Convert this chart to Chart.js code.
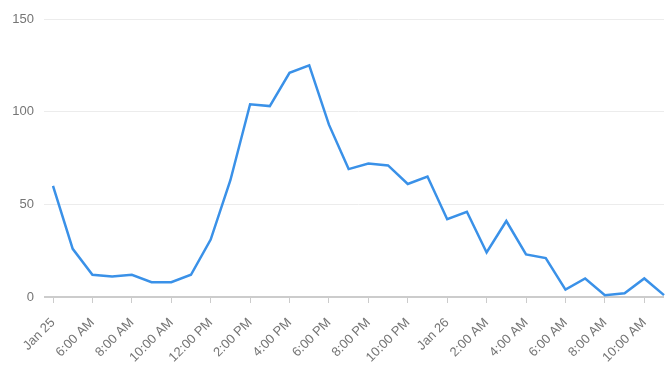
<!DOCTYPE html>
<html>
<head>
<meta charset="utf-8">
<script src="https://cdn.jsdelivr.net/npm/chart.js@4"></script>
<style>
  html, body { margin: 0; padding: 0; background: #fff; }
  #wrap { width: 671px; height: 377px; }
</style>
</head>
<body>
<div id="wrap"><canvas id="chart" width="671" height="377"></canvas></div>
<script>
// Hourly labels, Jan 25 4:00 AM -> Jan 26 11:00 AM (only every 2nd shown)
const HOURS = [
    'Jan 25', '5:00 AM', '6:00 AM', '7:00 AM', '8:00 AM', '9:00 AM',
    '10:00 AM', '11:00 AM', '12:00 PM', '1:00 PM', '2:00 PM', '3:00 PM',
    '4:00 PM', '5:00 PM', '6:00 PM', '7:00 PM', '8:00 PM', '9:00 PM',
    '10:00 PM', '11:00 PM', 'Jan 26', '1:00 AM', '2:00 AM', '3:00 AM',
    '4:00 AM', '5:00 AM', '6:00 AM', '7:00 AM', '8:00 AM', '9:00 AM',
    '10:00 AM', '11:00 AM',
];
const COUNTS = [
    60, 26, 12, 11, 12, 8, 8, 12, 31, 63, 104, 103,
    121, 125, 93, 69, 72, 71, 61, 65, 42, 46, 24, 41,
    23, 21, 4, 10, 1, 2, 10, 1,
];
const Y_TICKS = [0, 50, 100, 150];

const LINE = '#3a91e8';
const GRID = '#ececec';
const AXIS = '#cccccc';
const TEXT = '#757575';
const FONT = { family: 'Liberation Sans, Arial, sans-serif', size: 13 };

new Chart(document.getElementById('chart'), {
    type: 'line',
    data: {
        labels: HOURS,
        datasets: [{
            data: COUNTS,
            borderColor: LINE,
            borderWidth: 2.5,
            pointRadius: 0,
            tension: 0,
            fill: false,
        }],
    },
    options: {
        responsive: false,
        animation: false,
        layout: { padding: { top: 19, right: 7, left: 0, bottom: 0 } },
        plugins: { legend: { display: false }, tooltip: { enabled: false } },
        scales: {
            x: {
                offset: false,
                border: { display: false },
                grid: {
                    drawOnChartArea: false,
                    tickLength: 6,
                    color: c => c.index % 2 ? 'rgba(0,0,0,0)' : AXIS,
                },
                ticks: {
                    autoSkip: false,
                    minRotation: 45,
                    maxRotation: 45,
                    padding: 12,
                    color: TEXT,
                    font: FONT,
                    callback: (v, i) => i % 2 ? '' : HOURS[i],
                },
                afterFit: s => { s.height = 80; s.paddingLeft = 0; s.paddingRight = 0; },
            },
            y: {
                min: 0,
                max: 150,
                border: { display: false },
                afterBuildTicks: s => { s.ticks = Y_TICKS.map(v => ({ value: v })); },
                grid: {
                    tickLength: 9,
                    color: c => c.tick.value === 0 ? AXIS : GRID,
                    lineWidth: c => c.tick.value === 0 ? 2 : 1,
                },
                ticks: {
                    padding: 10,
                    color: TEXT,
                    font: FONT,
                },
                afterFit: s => { s.width = 53; },
            },
        },
    },
});
</script>
</body>
</html>
